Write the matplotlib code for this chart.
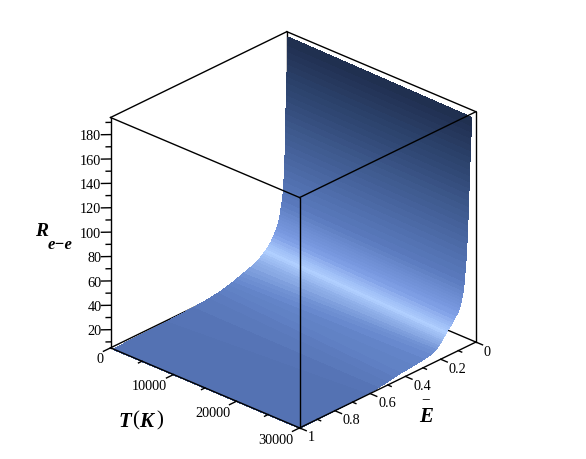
import matplotlib
matplotlib.use('Agg')
import matplotlib.pyplot as plt
from matplotlib.colors import LinearSegmentedColormap
import numpy as np

# surface: for each R level, how far (1 - E) the surface has got at each T end
R_levels = [5.1, 5.5, 6, 7, 8, 9, 10, 11, 12, 13, 14, 15, 16, 17, 18, 19, 20, 21, 22, 23, 24, 25, 26, 27, 28,
            29, 30, 32, 34, 36, 38, 40, 42, 44, 46, 48, 50, 53, 56, 60, 65, 70, 75, 80, 85, 90, 95, 100, 105,
            110, 115, 120, 125, 130, 135, 140, 145, 150, 155, 160, 165, 170, 175, 180, 185, 191]
u_T0 = [0, .15, .30, .45, .54, .59, .625, .652, .675, .695, .715, .735, .755, .775, .795, .81, .822, .832, .841,
        .849, .857, .865, .872, .879, .885, .89, .895, .903, .911, .918, .925, .93, .935, .939, .943, .946,
        .948, .951, .955, .96, .9635, .966, .968, .97, .9715, .973, .974, .975, .9758, .9765, .977, .978,
        .9785, .979, .98, .981, .982, .983, .984, .985, .9858, .9866, .9874, .9882, .989, .99]
u_T30000 = [0, .30, .38, .44, .49, .53, .568, .64, .70, .74, .758, .77, .778, .785, .792, .798, .803, .808, .814,
            .82, .826, .831, .836, .841, .848, .855, .862, .869, .88, .893, .90, .906, .911, .914, .917, .92,
            .923, .926, .929, .932, .935, .938, .941, .943, .945, .947, .949, .95, .952, .953, .955, .956,
            .957, .958, .959, .96, .961, .9625, .964, .965, .9665, .968, .9695, .971, .9725, .974]
T_ends = [500, 30000]

T_ticks = [0, 10000, 20000, 30000]
T_minor = [5000, 15000, 25000]
E_ticks = [0, 0.2, 0.4, 0.6, 0.8, 1]
E_labels = ['0', '0.2', '0.4', '0.6', '0.8', '1']
E_minor = [0.1, 0.3, 0.5, 0.7, 0.9]
R_ticks = [20, 40, 60, 80, 100, 120, 140, 160, 180]
R_minor = [10, 30, 50, 70, 90, 110, 130, 150, 170, 190]
T_lim = (0, 30000)
E_lim = (1, 0)
R_lim = (5.1, 194)

# colours along R, from the floor up to the top of the wall
R_stops = [5.1, 12, 24, 34, 60, 100, 150, 191]
R_colors = ['#5472b3', '#6687cc', '#b0cfff', '#7f9fe6', '#5a7abd', '#46639c', '#2e4570', '#1f2e4e']

cmap = LinearSegmentedColormap.from_list('wall', [((r - R_stops[0]) / (R_stops[-1] - R_stops[0]), c)
                                                  for r, c in zip(R_stops, R_colors)])

fig = plt.figure(figsize=(5.86, 4.60), dpi=100)
ax = fig.add_axes([-6 / 586, -7 / 460, 1, 1], projection='3d', computed_zorder=False)
ax.set_proj_type('ortho')
ax.view_init(elev=27, azim=-47)
ax.set_box_aspect((1, 1, 1), zoom=0.945)
ax.set_xlim(*T_lim)
ax.set_ylim(*E_lim)
ax.set_zlim(*R_lim)
ax.set_axis_off()
ax.patch.set_alpha(0)

XX = np.outer(np.ones(len(R_levels)), T_ends)
YY = 1 - np.column_stack([u_T0, u_T30000])
ZZ = np.column_stack([R_levels, R_levels])
mid = (ZZ[:-1, 0] + ZZ[1:, 0]) / 2
faces = cmap((mid - R_stops[0]) / (R_stops[-1] - R_stops[0]))[:, None, :]
surf = ax.plot_surface(XX, YY, ZZ, rstride=1, cstride=1, facecolors=faces, shade=False,
                       linewidth=0.6, antialiased=False, zorder=2)
surf.set_edgecolor(faces.reshape(-1, 4))

T0, T1 = T_lim
E1, E0 = E_lim
R0, R1 = R_lim
lw = 1.0


def edge(p, q, z):
    ax.plot([p[0], q[0]], [p[1], q[1]], [p[2], q[2]], color='k', lw=lw, zorder=z)


# box edges behind the surface
edge((T0, E0, R0), (T0, E1, R0), 1)
edge((T0, E0, R0), (T1, E0, R0), 1)
edge((T0, E0, R0), (T0, E0, R1), 1)
edge((T0, E1, R0), (T0, E1, R1), 1)
edge((T0, E1, R1), (T0, E0, R1), 1)
edge((T0, E0, R1), (T1, E0, R1), 1)
edge((T1, E0, R0), (T1, E0, R1), 1)
# box edges in front
edge((T0, E1, R0), (T1, E1, R0), 3)
edge((T1, E1, R0), (T1, E0, R0), 3)
edge((T1, E1, R0), (T1, E1, R1), 3)
edge((T0, E1, R1), (T1, E1, R1), 3)
edge((T1, E1, R1), (T1, E0, R1), 3)

dT = T1 - T0
# T ticks point along E beyond 1
for t in T_ticks:
    edge((t, E1, R0), (t, E1 + 0.04, R0), 3)
    ax.text(t, E1 + 0.037, R0 - 6.5, '{}'.format(t), ha='right', va='center', fontsize=10.3,
            family='Liberation Serif')
for t in T_minor:
    edge((t, E1, R0), (t, E1 + 0.02, R0), 3)
# E ticks point along T beyond 30000
for e, lab in zip(E_ticks, E_labels):
    edge((T1, e, R0), (T1 + 0.035 * dT, e, R0), 3)
    ax.text(T1 + 0.042 * dT, e, R0 - 4.6, lab, ha='left', va='center', fontsize=10.3,
            family='Liberation Serif')
for e in E_minor:
    edge((T1, e, R0), (T1 + 0.018 * dT, e, R0), 3)
# R ticks point to the left on the screen
for r in R_ticks:
    edge((T0, E1, r), (T0 - 0.025 * dT, E1 + 0.025, r), 3)
    ax.text(T0 - 0.025 * dT, E1 + 0.025, r - 0.8, '{}'.format(r), ha='right', va='center', fontsize=10.3,
            family='Liberation Serif')
for r in R_minor:
    edge((T0, E1, r), (T0 - 0.012 * dT, E1 + 0.012, r), 3)

label = dict(family='Liberation Serif', weight='bold', style='italic', color='k')
fig.text(35 / 586, 1 - 232 / 460, 'R', fontsize=14, va='center', **label)
fig.text(48 / 586, 1 - 245 / 460, 'e\u2212e', fontsize=12, va='center', **label)
fig.text(118 / 586, 1 - 422 / 460, 'T', fontsize=15, va='center', **label)
fig.text(132 / 586, 1 - 421 / 460, '(', fontsize=15, va='center', family='Liberation Serif')
fig.text(139 / 586, 1 - 422 / 460, 'K', fontsize=15, va='center', **label)
fig.text(156 / 586, 1 - 421 / 460, ')', fontsize=15, va='center', family='Liberation Serif')
fig.text(419 / 586, 1 - 417 / 460, 'E', fontsize=15, va='center', **label)
fig.text(425.5 / 586, 1 - 400 / 460, '\u2212', fontsize=11, ha='center', va='center',
         family='Liberation Serif')

fig.savefig('out.png', dpi=100)
